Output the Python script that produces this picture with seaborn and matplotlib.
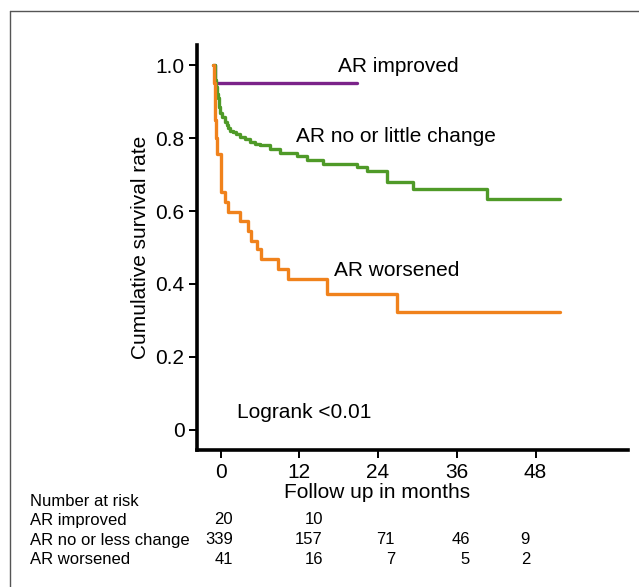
import numpy as np
import pandas as pd
import matplotlib
matplotlib.use("Agg")
import matplotlib.pyplot as plt
import seaborn as sns
from matplotlib.lines import Line2D

# Kaplan-Meier step curves (months, survival)
improved_t = [-0.9, -0.8, 20.8]
improved_s = [1.0, 0.95, 0.95]

little_t = [-1.1, -0.9, -0.75, -0.6, -0.4, -0.3, -0.2, -0.1, 0.2, 0.6, 0.9, 1.1, 1.5, 1.9,
            2.4, 2.9, 3.7, 4.5, 5.2, 6.0, 7.6, 9.1, 11.6, 13.2, 15.6, 20.8, 22.3, 25.4,
            29.3, 40.6, 51.7]
little_s = [1.0, 0.96, 0.94, 0.92, 0.91, 0.90, 0.885, 0.87, 0.857, 0.845, 0.835, 0.827,
            0.82, 0.816, 0.81, 0.803, 0.797, 0.79, 0.785, 0.78, 0.77, 0.76, 0.75, 0.74,
            0.73, 0.72, 0.71, 0.68, 0.66, 0.633, 0.633]

worse_t = [-1.1, -1.0, -0.9, -0.8, -0.7, -0.6, 0.0, 0.7, 1.2, 3.0, 4.2, 4.7, 5.6, 6.1,
           8.8, 10.2, 16.2, 26.9, 51.7]
worse_s = [1.0, 0.95, 0.9, 0.85, 0.8, 0.755, 0.652, 0.625, 0.597, 0.573, 0.545, 0.518,
           0.496, 0.468, 0.441, 0.414, 0.373, 0.323, 0.323]

groups = ["AR improved", "AR no or little change", "AR worsened"]
colors = ["#7b2389", "#4f9a28", "#f0821c"]

risk_rows = ["AR improved", "AR no or less change", "AR worsened"]
risk_improved = ["20", "10", "", "", ""]
risk_little = ["339", "157", "71", "46", "9"]
risk_worse = ["41", "16", "7", "5", "2"]

df = pd.concat([
    pd.DataFrame({"time": improved_t, "surv": improved_s, "group": groups[0]}),
    pd.DataFrame({"time": little_t, "surv": little_s, "group": groups[1]}),
    pd.DataFrame({"time": worse_t, "surv": worse_s, "group": groups[2]}),
], ignore_index=True)

sns.set_style("ticks")
plt.rcParams["font.family"] = ["Liberation Sans", "DejaVu Sans"]
plt.rcParams["text.color"] = "black"
plt.rcParams["xtick.color"] = "black"
plt.rcParams["ytick.color"] = "black"

W, H = 639, 587
fig = plt.figure(figsize=(W / 100, H / 100), dpi=100)
ax = fig.add_axes([197 / W, 1 - 450 / H, (628 - 197) / W, (450 - 45) / H])

sns.lineplot(data=df, x="time", y="surv", hue="group", palette=colors,
             drawstyle="steps-post", estimator=None, sort=False, legend=False,
             linewidth=2.4, ax=ax)

ax.set_xlim(-3.6, 62.1)
ax.set_ylim(-0.055, 1.055)
ax.set_xticks([0, 12, 24, 36, 48])
ax.set_yticks([0, 0.2, 0.4, 0.6, 0.8, 1.0])
ax.set_yticklabels(["0", "0.2", "0.4", "0.6", "0.8", "1.0"])
ax.set_xlabel("")
ax.set_ylabel("")
sns.despine(ax=ax)
for side in ["left", "bottom"]:
    ax.spines[side].set_linewidth(2.6)
    ax.spines[side].set_color("black")
ax.tick_params(axis="both", labelsize=15, length=6, width=1.4, colors="black", pad=3)

ax.text(17.9, 0.997, "AR improved", fontsize=15, va="center")
ax.text(11.5, 0.805, "AR no or little change", fontsize=15, va="center")
ax.text(17.3, 0.438, "AR worsened", fontsize=15, va="center")
ax.text(2.5, 0.049, "Logrank <0.01", fontsize=15, va="center")

fig.text(140 / W, 1 - 247 / H, "Cumulative survival rate", fontsize=15,
         rotation=90, ha="center", va="center")
fig.text(377 / W, 1 - 492 / H, "Follow up in months", fontsize=15,
         ha="center", va="center")

# number at risk table
fig.text(30 / W, 1 - 502 / H, "Number at risk", fontsize=12, va="center")
col_right = [233, 323, 395, 470, 530]
row_y = [520, 540, 559]
for name, vals, y in zip(risk_rows, [risk_improved, risk_little, risk_worse], row_y):
    fig.text(30 / W, 1 - y / H, name, fontsize=12, va="center")
    for v, xr in zip(vals, col_right):
        fig.text(xr / W, 1 - y / H, v, fontsize=12, va="center", ha="right")

# image frame (top and left edges)
fig.add_artist(Line2D([10 / W, 10 / W], [0, 1 - 11 / H], color="#555555", lw=1.0))
fig.add_artist(Line2D([10 / W, 1], [1 - 11 / H, 1 - 11 / H], color="#555555", lw=1.0))

fig.savefig("out.png", dpi=100)
